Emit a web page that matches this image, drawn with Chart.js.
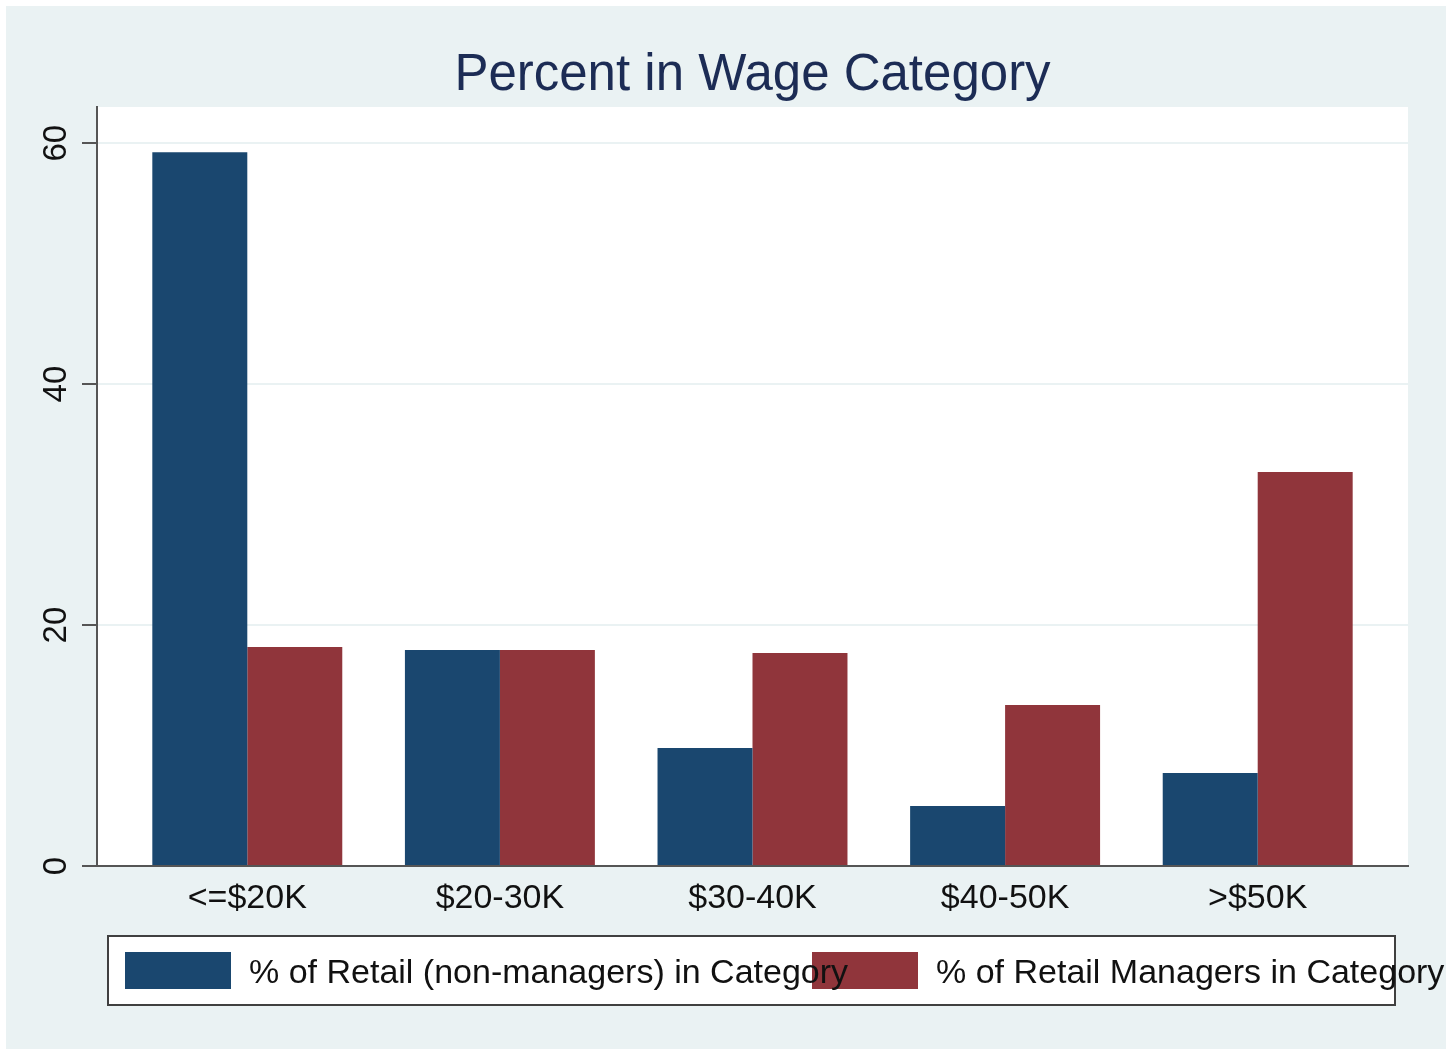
<!DOCTYPE html>
<html>
<head>
<meta charset="utf-8">
<script src="https://cdn.jsdelivr.net/npm/chart.js@4.4.1/dist/chart.umd.min.js"></script>
<style>
  html, body { margin: 0; padding: 0; background: #ffffff; }
  canvas { display: block; }
</style>
</head>
<body>
<canvas id="c" width="1446" height="1050"></canvas>
<script>
// ---- data ----
const categories = ["<=$20K", "$20-30K", "$30-40K", "$40-50K", ">$50K"];
const nonManagers = [59.25, 17.93, 9.79, 4.98, 7.72];
const managers = [18.17, 17.93, 17.68, 13.36, 32.70];
const seriesLabels = ["% of Retail (non-managers) in Category", "% of Retail Managers in Category"];
const yTicks = [0, 20, 40, 60];
const titleText = "Percent in Wage Category";

const BLUE = "#1a476f";
const RED = "#90353b";
const BG = "#eaf2f3";
const AXIS = "#555555";
const FONT = "'Liberation Sans', Arial, sans-serif";

const decor = {
  id: "decor",
  beforeDraw(chart) {
    const ctx = chart.ctx;
    const a = chart.chartArea;
    ctx.save();
    ctx.fillStyle = "#ffffff";
    ctx.fillRect(0, 0, chart.width, chart.height);
    ctx.fillStyle = BG;
    ctx.fillRect(6, 6, chart.width - 6, chart.height - 7);
    ctx.fillStyle = "#ffffff";
    ctx.fillRect(a.left, a.top, a.right - a.left, a.bottom - a.top);
    ctx.restore();
  },
  afterDraw(chart) {
    const ctx = chart.ctx;
    const a = chart.chartArea;
    const ys = chart.scales.y;
    ctx.save();
    // title
    ctx.fillStyle = "#1c2c55";
    ctx.font = "51px " + FONT;
    ctx.textAlign = "center";
    ctx.textBaseline = "alphabetic";
    ctx.fillText(titleText, (a.left + a.right) / 2, 90);
    // rotated y tick labels
    ctx.fillStyle = "#111111";
    ctx.font = "33px " + FONT;
    ys.ticks.forEach(t => {
      const py = ys.getPixelForValue(t.value);
      ctx.save();
      ctx.translate(66, py);
      ctx.rotate(-Math.PI / 2);
      ctx.textAlign = "center";
      ctx.textBaseline = "alphabetic";
      ctx.fillText(String(t.value), 0, 0);
      ctx.restore();
    });
    // legend box
    ctx.fillStyle = "#ffffff";
    ctx.fillRect(108, 936, 1287, 69);
    ctx.strokeStyle = "#404040";
    ctx.lineWidth = 2;
    ctx.strokeRect(108, 936, 1287, 69);
    const ds = chart.data.datasets;
    const sw = [{x: 125, tx: 249}, {x: 812, tx: 936}];
    ds.forEach((d, i) => {
      ctx.fillStyle = d.backgroundColor;
      ctx.fillRect(sw[i].x, 952, 106, 37);
    });
    ctx.fillStyle = "#111111";
    ctx.font = "34px " + FONT;
    ctx.textAlign = "left";
    ctx.textBaseline = "alphabetic";
    ds.forEach((d, i) => {
      ctx.fillText(d.label, sw[i].tx, 983);
    });
    ctx.restore();
  }
};

new Chart(document.getElementById("c"), {
  type: "bar",
  data: {
    datasets: [
      {
        label: seriesLabels[0],
        data: nonManagers.map((v, i) => ({x: i, y: v})),
        backgroundColor: BLUE,
        borderWidth: 0
      },
      {
        label: seriesLabels[1],
        data: managers.map((v, i) => ({x: i, y: v})),
        backgroundColor: RED,
        borderWidth: 0
      }
    ]
  },
  options: {
    responsive: false,
    animation: false,
    devicePixelRatio: 1,
    categoryPercentage: 0.752,
    barPercentage: 1.0,
    layout: { padding: { left: 0, right: 38, top: 107, bottom: 0 } },
    plugins: {
      legend: { display: false },
      title: { display: false },
      tooltip: { enabled: false }
    },
    scales: {
      x: {
        type: "linear",
        offset: false,
        min: -0.595,
        max: 4.595,
        afterBuildTicks(scale) {
          scale.ticks = categories.map((c, i) => ({value: i}));
        },
        afterFit(scale) { scale.height = 184; },
        grid: { display: false, drawTicks: false, offset: false },
        border: { display: true, color: AXIS, width: 2 },
        ticks: {
          autoSkip: false,
          maxRotation: 0,
          minRotation: 0,
          padding: 12,
          color: "#111111",
          font: { family: FONT, size: 34 },
          callback: (v) => categories[v] ?? ""
        }
      },
      y: {
        min: 0,
        max: 63,
        afterBuildTicks(scale) {
          scale.ticks = yTicks.map(v => ({value: v}));
        },
        afterFit(scale) { scale.width = 97; },
        grid: {
          color: BG,
          lineWidth: 2,
          drawTicks: true,
          tickLength: 15,
          tickColor: AXIS,
          tickWidth: 2
        },
        border: { display: true, color: AXIS, width: 2 },
        ticks: { display: false }
      }
    }
  },
  plugins: [decor]
});
</script>
</body>
</html>
